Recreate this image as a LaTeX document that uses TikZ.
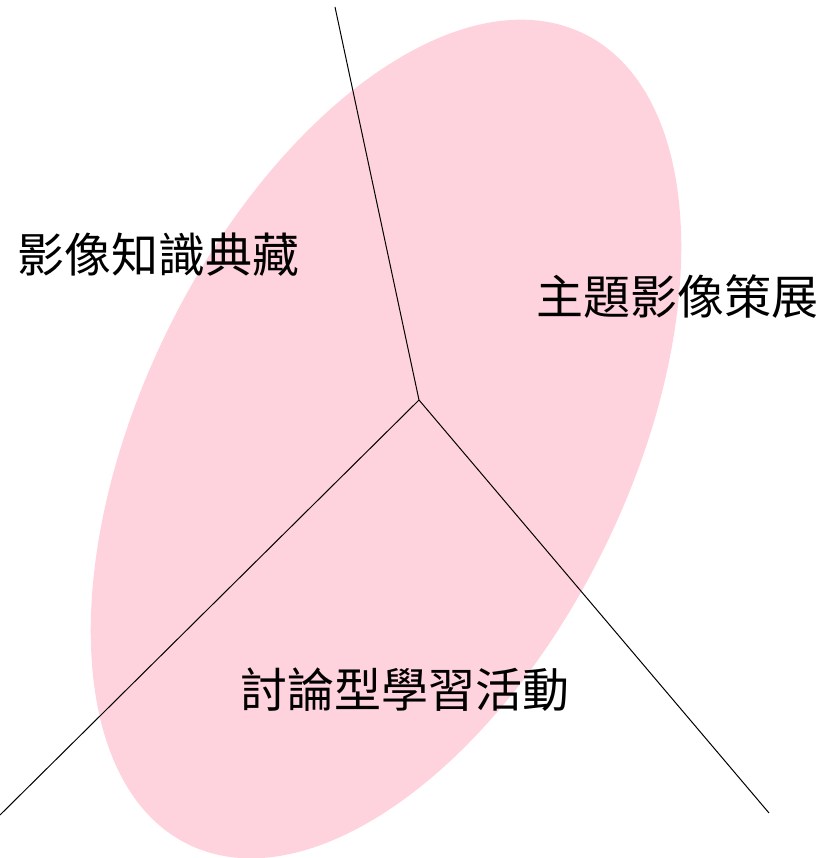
\documentclass[tikz,border=0pt]{standalone}
\usepackage{fontspec}
\newfontfamily\cjk{Noto Sans CJK TC}
\definecolor{ellpink}{RGB}{255,211,222}
\begin{document}
\begin{tikzpicture}[x=1pt,y=-1pt,
  lbl/.style={font=\cjk\fontsize{47}{52}\selectfont, inner sep=0pt, anchor=center},
  spoke/.style={draw=black, line width=1pt}]
\useasboundingbox (0,0) rectangle (826,858);
\fill[ellpink, rotate around={64:(386,439)}] (386,439) ellipse [x radius=451, y radius=244];
\coordinate (c) at (419,400);
\coordinate (t) at (335,7);
\coordinate (l) at (0,815);
\coordinate (r) at (769,813);
\draw[spoke] (c) -- (t);
\draw[spoke] (c) -- (l);
\draw[spoke] (c) -- (r);
\node[lbl] (a) at (158,255) {影像知識典藏};
\node[lbl] (b) at (677,297) {主題影像策展};
\node[lbl] (d) at (405,690) {討論型學習活動};
\end{tikzpicture}
\end{document}
